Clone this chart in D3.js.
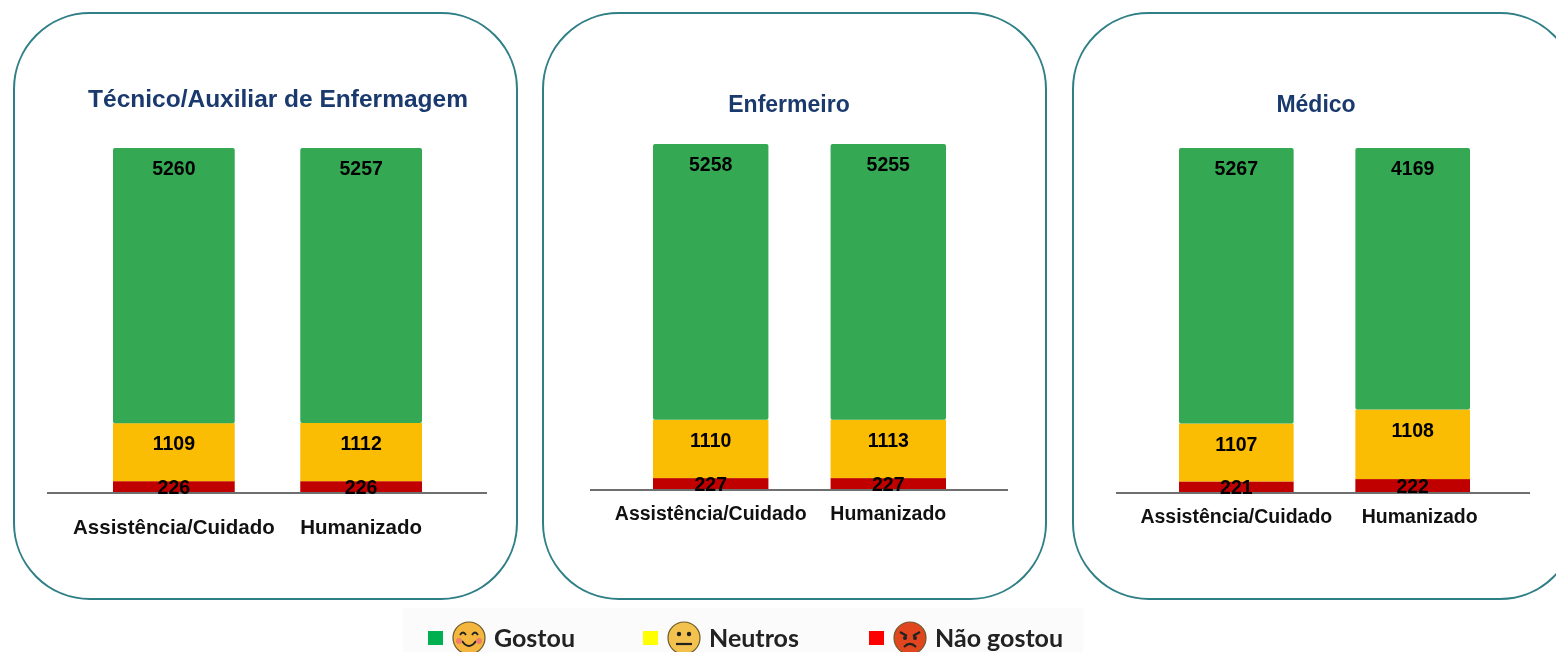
<!DOCTYPE html>
<html>
<head>
<meta charset="utf-8">
<script src="https://cdn.jsdelivr.net/npm/d3@7"></script>
<style>
  html, body { margin: 0; background: #fff; overflow: hidden; }
  svg { display: block; filter: blur(0.4px); }
  text { font-family: "Liberation Sans", Arial, sans-serif; }
</style>
</head>
<body>
<div id="chart-area"></div>
<script>
const categories = ['Assistência/Cuidado', 'Humanizado'];
const seriesNames = ['Não gostou', 'Neutros', 'Gostou'];
const panelTitles = ['Técnico/Auxiliar de Enfermagem', 'Enfermeiro', 'Médico'];

const gostou = [[5260, 5257], [5258, 5255], [5267, 4169]];
const neutros = [[1109, 1112], [1110, 1113], [1107, 1108]];
const naoGostou = [[226, 226], [227, 227], [221, 222]];

const barColors = { 'Gostou': '#34a853', 'Neutros': '#fbbc04', 'Não gostou': '#c00000' };
const legendColors = { 'Gostou': '#00b050', 'Neutros': '#ffff00', 'Não gostou': '#ff0000' };

// where each panel sits on the page
const layout = [
  { box: [14, 13, 503, 586], bars: [113, 422], top: 148, base: 493, line: [47, 487], titleX: 278, titleY: 107, titleSize: 24.5, tickY: 537, tickSize: 20.5, humanShift: 0 },
  { box: [543, 13, 503, 586], bars: [653, 946], top: 144, base: 490, line: [590, 1008], titleX: 789, titleY: 112, titleSize: 23, tickY: 524, tickSize: 19.5, humanShift: 0 },
  { box: [1073, 13, 503, 586], bars: [1179, 1470], top: 148, base: 493, line: [1116, 1530], titleX: 1316, titleY: 112, titleSize: 23, tickY: 527, tickSize: 19.5, humanShift: 7 }
];

const svg = d3.select('#chart-area').append('svg')
  .attr('width', 1556)
  .attr('height', 652);

const stack = d3.stack()
  .keys(seriesNames)
  .offset(d3.stackOffsetExpand);

layout.forEach((p, i) => {
  const rows = categories.map((c, j) => ({
    category: c,
    'Gostou': gostou[i][j],
    'Neutros': neutros[i][j],
    'Não gostou': naoGostou[i][j]
  }));

  const x = d3.scaleBand()
    .domain(categories)
    .range(p.bars)
    .paddingInner(0.35)
    .paddingOuter(0);

  const y = d3.scaleLinear()
    .domain([0, 1])
    .range([p.base, p.top]);

  const g = svg.append('g');

  g.append('rect')
    .attr('x', p.box[0])
    .attr('y', p.box[1])
    .attr('width', p.box[2])
    .attr('height', p.box[3])
    .attr('rx', 76)
    .attr('fill', '#fff')
    .attr('stroke', '#2f7f86')
    .attr('stroke-width', 2);

  g.append('text')
    .attr('x', p.titleX)
    .attr('y', p.titleY)
    .attr('text-anchor', 'middle')
    .attr('font-size', p.titleSize)
    .attr('font-weight', 'bold')
    .attr('fill', '#1a3a6e')
    .text(panelTitles[i]);

  const layers = stack(rows);

  layers.forEach(layer => {
    g.selectAll(null)
      .data(layer)
      .enter()
      .append('rect')
      .attr('x', d => x(d.data.category))
      .attr('y', d => y(d[1]))
      .attr('width', x.bandwidth())
      .attr('height', d => y(d[0]) - y(d[1]))
      .attr('rx', layer.key === 'Gostou' ? 2 : 0)
      .attr('fill', barColors[layer.key]);
  });

  g.append('line')
    .attr('x1', p.line[0])
    .attr('x2', p.line[1])
    .attr('y1', p.base)
    .attr('y2', p.base)
    .attr('stroke', '#6f6f6f')
    .attr('stroke-width', 2);

  layers.forEach(layer => {
    g.selectAll(null)
      .data(layer)
      .enter()
      .append('text')
      .attr('x', d => x(d.data.category) + x.bandwidth() / 2)
      .attr('y', d => layer.key === 'Não gostou' ? (y(d[0]) + y(d[1])) / 2 : y(d[1]) + 20)
      .attr('dy', '0.36em')
      .attr('text-anchor', 'middle')
      .attr('font-size', 19.5)
      .attr('font-weight', 'bold')
      .attr('fill', '#000')
      .text(d => d.data[layer.key]);
  });

  const axis = g.append('g')
    .attr('transform', `translate(0,${p.tickY - 18})`)
    .call(d3.axisBottom(x).tickSize(0).tickPadding(0));
  axis.select('.domain').remove();
  axis.selectAll('text')
    .attr('font-family', '"Liberation Sans", Arial, sans-serif')
    .attr('font-size', p.tickSize)
    .attr('font-weight', 'bold')
    .attr('fill', '#111')
    .attr('dx', d => d === 'Humanizado' ? p.humanShift : 0);
});

// legend
const legend = svg.append('g');

legend.append('rect')
  .attr('x', 403)
  .attr('y', 608)
  .attr('width', 680)
  .attr('height', 44)
  .attr('fill', '#fbfbfb');

const legendItems = ['Gostou', 'Neutros', 'Não gostou'];
const legendX = d3.scaleOrdinal().domain(legendItems).range([428, 643, 869]);
const faceColors = { 'Gostou': '#f4b63f', 'Neutros': '#f2c14e', 'Não gostou': '#e2461f' };

const item = legend.selectAll('g')
  .data(legendItems)
  .enter()
  .append('g')
  .attr('transform', d => `translate(${legendX(d)},638)`);

item.append('rect')
  .attr('x', 0)
  .attr('y', -7)
  .attr('width', 15)
  .attr('height', 14)
  .attr('fill', d => legendColors[d]);

const face = item.append('g').attr('transform', 'translate(41,0)');

face.append('circle')
  .attr('r', 16)
  .attr('fill', d => faceColors[d])
  .attr('stroke', '#6b5a2a')
  .attr('stroke-width', 1.2);

// mouth and eyes differ per mood
face.filter(d => d === 'Gostou').each(function() {
  const f = d3.select(this);
  f.append('path').attr('d', 'M-9,-3 Q-6,-8 -3,-3 M3,-3 Q6,-8 9,-3')
    .attr('fill', 'none').attr('stroke', '#222').attr('stroke-width', 1.8);
  f.append('path').attr('d', 'M-7,3 Q0,13 7,3')
    .attr('fill', 'none').attr('stroke', '#222').attr('stroke-width', 2);
  f.append('circle').attr('cx', -10).attr('cy', 3).attr('r', 3).attr('fill', '#ee7d6a');
  f.append('circle').attr('cx', 10).attr('cy', 3).attr('r', 3).attr('fill', '#ee7d6a');
});

face.filter(d => d === 'Neutros').each(function() {
  const f = d3.select(this);
  f.append('circle').attr('cx', -5).attr('cy', -4).attr('r', 2.2).attr('fill', '#222');
  f.append('circle').attr('cx', 5).attr('cy', -4).attr('r', 2.2).attr('fill', '#222');
  f.append('line').attr('x1', -8).attr('x2', 8).attr('y1', 6).attr('y2', 6)
    .attr('stroke', '#222').attr('stroke-width', 2.2);
});

face.filter(d => d === 'Não gostou').each(function() {
  const f = d3.select(this);
  f.append('path').attr('d', 'M-10,-6 L-3,-2 M10,-6 L3,-2')
    .attr('stroke', '#222').attr('stroke-width', 2.2);
  f.append('circle').attr('cx', -5).attr('cy', 0).attr('r', 2).attr('fill', '#222');
  f.append('circle').attr('cx', 5).attr('cy', 0).attr('r', 2).attr('fill', '#222');
  f.append('path').attr('d', 'M-6,9 Q0,3 6,9')
    .attr('fill', 'none').attr('stroke', '#222').attr('stroke-width', 2.2);
});

item.append('text')
  .attr('x', 66)
  .attr('y', 0)
  .attr('dy', '0.36em')
  .style('font-family', 'Lato, "Open Sans", sans-serif')
  .attr('font-size', 25)
  .attr('font-weight', 'bold')
  .attr('fill', '#222')
  .text(d => d);
</script>
</body>
</html>
